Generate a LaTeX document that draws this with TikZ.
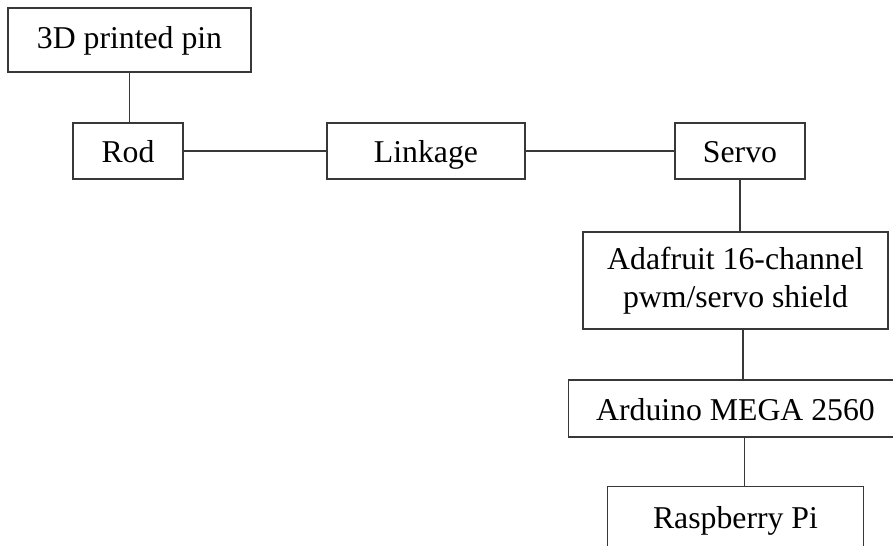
\documentclass[tikz,border=0pt]{standalone}
\usepackage{fontspec}
\setmainfont{Liberation Serif}
\usetikzlibrary{positioning}

\tikzset{
  blk/.style={draw=black!78, line width=0.5pt, inner sep=0pt, align=center,
    text height=9.4pt, text depth=0pt,
    minimum height=22.4pt, font=\fontsize{12.7pt}{15.4pt}\selectfont},
  link/.style={draw=black!78, line width=0.5pt}
}

\begin{document}
\begin{tikzpicture}[node distance=2cm,on grid]
  \useasboundingbox (0,0) rectangle (357.2pt,-218.4pt);
  \clip (0,0) rectangle (357.2pt,-218.4pt);
  \node[blk,minimum width=97.2pt,minimum height=25.6pt,text height=6.6pt] (pin) at (51.8pt,-16pt) {3D printed pin};
  \node[blk,minimum width=44pt] (rod) [below=44.4pt of pin,xshift=-0.6pt] {Rod};
  \node[blk,minimum width=79.2pt] (linkage) [right=119.2pt of rod] {Linkage};
  \node[blk,minimum width=52pt] (servo) [right=125.6pt of linkage] {Servo};
  \node[blk,minimum width=122pt,minimum height=38.8pt,text height={},text depth={}] (shield) [below=51.8pt of servo,xshift=-1.8pt] {Adafruit 16-channel\\pwm/servo shield};
  \node[blk,minimum width=133.6pt,minimum height=22.8pt] (mega) [below=51.2pt of shield] {Arduino MEGA 2560};
  \node[blk,minimum width=102.4pt,minimum height=25pt,text height=8.6pt] (rpi) [below=43.8pt of mega] {Raspberry Pi};
  \draw[link] (pin) -- (pin |- rod.north);
  \draw[link] (rod) -- (linkage);
  \draw[link] (linkage) -- (servo);
  \draw[link] (servo) -- (servo |- shield.north);
  \draw[link] ([xshift=3pt]shield.south) -- ([xshift=3pt]shield.south |- mega.north);
  \draw[link] ([xshift=3.6pt]mega.south) -- ([xshift=3.6pt]mega.south |- rpi.north);
\end{tikzpicture}
\end{document}
